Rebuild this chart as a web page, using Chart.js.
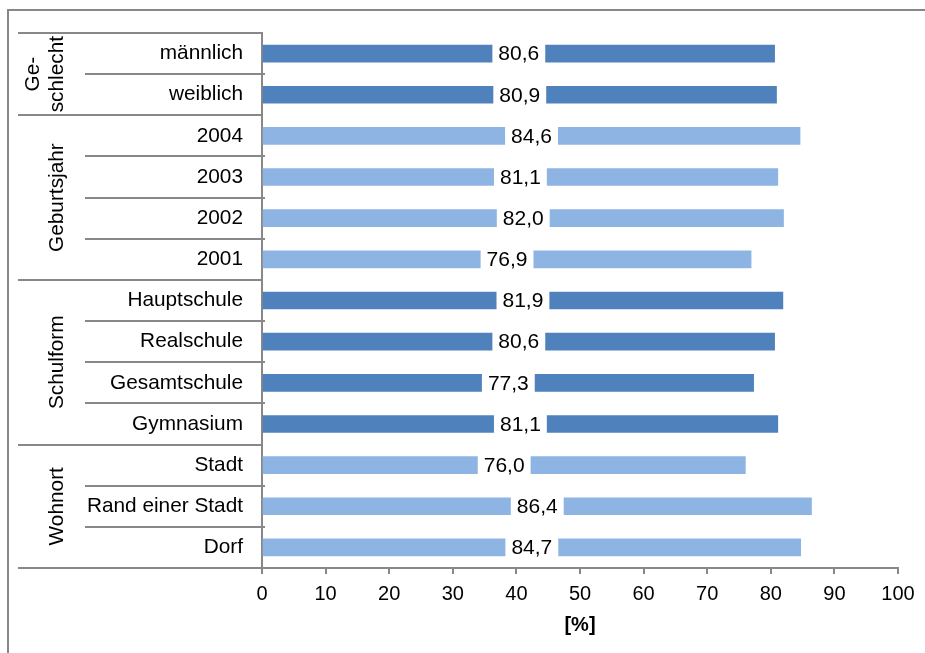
<!DOCTYPE html>
<html>
<head>
<meta charset="utf-8">
<script src="https://cdn.jsdelivr.net/npm/chart.js@4"></script>
<style>
  html, body { margin: 0; padding: 0; background: #fff; }
  #wrap { width: 925px; height: 653px; }
</style>
</head>
<body>
<div id="wrap"><canvas id="c" width="925" height="653"></canvas></div>
<script>
// Category labels (top to bottom) and the share in percent for each
const categories = ['männlich', 'weiblich', '2004', '2003', '2002', '2001',
  'Hauptschule', 'Realschule', 'Gesamtschule', 'Gymnasium',
  'Stadt', 'Rand einer Stadt', 'Dorf'];
const values = [80.6, 80.9, 84.6, 81.1, 82.0, 76.9, 81.9, 80.6, 77.3, 81.1, 76.0, 86.4, 84.7];

// Grouping of the categories (label lines, number of members)
const groupLabels = [['Ge-', 'schlecht'], ['Geburtsjahr'], ['Schulform'], ['Wohnort']];
const groupSizes = [2, 4, 4, 3];

// x axis
const xTicks = [0, 10, 20, 30, 40, 50, 60, 70, 80, 90, 100];
const xTitle = '[%]';

const FONT = '"Liberation Sans", Arial, sans-serif';
const LINE = '#888888';
const DARK = '#4F81BD';
const LIGHT = '#8EB4E3';

// group index of every category
const groupOf = [];
groupSizes.forEach((n, g) => { for (let i = 0; i < n; i++) groupOf.push(g); });
const barColors = groupOf.map(g => (g % 2 === 0 ? DARK : LIGHT));

Chart.defaults.font.family = FONT;
Chart.defaults.font.size = 20;
Chart.defaults.color = '#000';

// Frame around the whole figure
const framePlugin = {
  id: 'frame',
  beforeDraw(chart) {
    const ctx = chart.ctx;
    ctx.save();
    ctx.fillStyle = '#fff';
    ctx.fillRect(0, 0, chart.width, chart.height);
    ctx.strokeStyle = LINE;
    ctx.lineWidth = 2;
    ctx.strokeRect(8, 10, chart.width + 20, chart.height + 20);
    ctx.restore();
  }
};

// Separator lines and rotated group names left of the category labels
const groupPlugin = {
  id: 'groups',
  afterDraw(chart) {
    const ctx = chart.ctx;
    const y = chart.scales.y;
    const area = chart.chartArea;
    const edge = i => {
      if (i <= 0) return area.top;
      if (i >= categories.length) return area.bottom;
      return (y.getPixelForValue(i - 1) + y.getPixelForValue(i)) / 2;
    };
    ctx.save();
    ctx.strokeStyle = LINE;
    ctx.lineWidth = 2;
    let start = 0;
    groupSizes.forEach((n, g) => {
      // group boundary
      ctx.beginPath();
      ctx.moveTo(18, Math.round(edge(start)));
      ctx.lineTo(area.left, Math.round(edge(start)));
      ctx.stroke();
      // lines between members
      for (let k = 1; k < n; k++) {
        const yy = Math.round(edge(start + k));
        ctx.beginPath();
        ctx.moveTo(85, yy);
        ctx.lineTo(area.left + 3, yy);
        ctx.stroke();
      }
      // rotated group name
      const cy = (edge(start) + edge(start + n)) / 2;
      const lines = groupLabels[g];
      ctx.fillStyle = '#000';
      ctx.font = '20.8px ' + FONT;
      ctx.textAlign = 'center';
      ctx.textBaseline = 'alphabetic';
      lines.forEach((txt, li) => {
        const bx = 63 - (lines.length - 1 - li) * 24;
        ctx.save();
        ctx.translate(bx, cy);
        ctx.rotate(-Math.PI / 2);
        ctx.fillText(txt, 0, 0);
        ctx.restore();
      });
      start += n;
    });
    ctx.beginPath();
    ctx.moveTo(18, Math.round(area.bottom));
    ctx.lineTo(area.left, Math.round(area.bottom));
    ctx.stroke();
    ctx.restore();
  }
};

// Value labels on a white box in the middle of each bar
const valueLabelPlugin = {
  id: 'valueLabels',
  afterDatasetsDraw(chart) {
    const ctx = chart.ctx;
    const meta = chart.getDatasetMeta(0);
    ctx.save();
    ctx.font = '21px ' + FONT;
    ctx.textAlign = 'center';
    ctx.textBaseline = 'middle';
    meta.data.forEach((bar, i) => {
      const txt = values[i].toFixed(1).replace('.', ',');
      const cx = (bar.base + bar.x) / 2;
      const w = ctx.measureText(txt).width;
      ctx.fillStyle = '#fff';
      ctx.fillRect(cx - w / 2 - 6, bar.y - 12, w + 12, 24);
      ctx.fillStyle = '#000';
      ctx.fillText(txt, cx, bar.y + 1);
    });
    ctx.restore();
  }
};

new Chart(document.getElementById('c'), {
  type: 'bar',
  data: {
    labels: categories,
    datasets: [{
      data: values,
      backgroundColor: barColors,
      borderWidth: 0,
      barThickness: 17
    }]
  },
  options: {
    indexAxis: 'y',
    responsive: false,
    animation: false,
    events: [],
    layout: { padding: { top: 33, right: 27, bottom: 0, left: 0 } },
    plugins: {
      legend: { display: false },
      tooltip: { enabled: false }
    },
    scales: {
      x: {
        min: 0,
        max: 100,
        afterFit(scale) { scale.height = 85; },
        afterBuildTicks(scale) { scale.ticks = xTicks.map(v => ({ value: v })); },
        grid: {
          display: true,
          drawOnChartArea: false,
          drawTicks: true,
          tickLength: 6,
          color: LINE,
          lineWidth: 2
        },
        border: { display: true, color: LINE, width: 2 },
        ticks: { padding: 8, color: '#000', font: { size: 20 }, maxRotation: 0 },
        title: {
          display: true,
          text: xTitle,
          color: '#000',
          font: { size: 20, weight: 'bold' },
          padding: { top: 4, bottom: 16 }
        }
      },
      y: {
        afterFit(scale) { scale.width = 262; },
        grid: { display: true, drawOnChartArea: false, drawTicks: false, color: LINE, lineWidth: 2 },
        border: { display: true, color: LINE, width: 2 },
        ticks: { padding: 19, color: '#000', font: { size: 20.8 } }
      }
    }
  },
  plugins: [framePlugin, groupPlugin, valueLabelPlugin]
});
</script>
</body>
</html>
